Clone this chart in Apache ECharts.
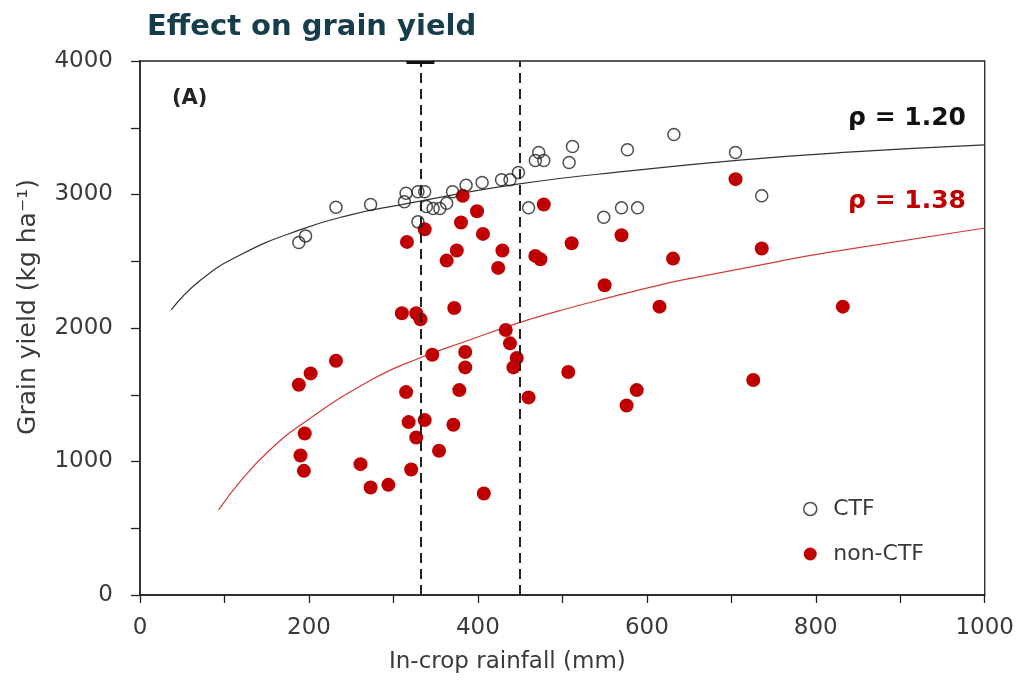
<!DOCTYPE html>
<html>
<head>
<meta charset="utf-8">
<script src="https://cdn.jsdelivr.net/npm/echarts@6/dist/echarts.min.js"></script>
<style>
html,body{margin:0;padding:0;background:#fff;}
#chart{width:1017px;height:682px;}
</style>
</head>
<body>
<div id="chart"></div>
<script>
// ---- data ----
var ctfRainfall = [188,196,232,273,315,313,329,337,329,339,347,355,363,370,386,405,428,438,448,460,472,468,478,512,508,549,570,589,577,632,705,736];
var ctfYield    = [2640,2690,2905,2925,3010,2945,3020,3020,2795,2910,2895,2895,2935,3020,3070,3090,3110,3110,3165,2900,3315,3255,3255,3360,3240,2830,2900,2900,3335,3450,3315,2990];

var nonCtfRainfall = [382,399,380,406,337,316,375,363,429,424,310,327,332,372,433,438,446,442,346,385,385,232,202,188,315,378,318,337,327,371,354,195,190,194,261,273,294,321,407,460,478,468,474,511,570,550,631,705,736,615,832,507,588,576,726];
var nonCtfYield    = [2990,2875,2790,2705,2740,2645,2580,2505,2580,2450,2110,2110,2065,2150,1985,1885,1775,1705,1800,1820,1705,1755,1660,1575,1520,1535,1295,1310,1180,1275,1080,1210,1045,930,980,805,825,940,760,1480,2925,2540,2515,2635,2695,2320,2520,3115,2595,2160,2160,1670,1535,1420,1610];

// fitted curves, points
var ctfFitRainfall = [37,70,118,189,248,307,449,591,710,828,1000];
var ctfFitYield    = [2135,2350,2545,2735,2846,2921,3079,3184,3258,3313,3371];
var nonCtfFitRainfall = [93,120,153,193,272,331,390,449,497,544,631,663,749,781,828,1000];
var nonCtfFitYield    = [637,860,1082,1286,1605,1775,1910,2040,2130,2210,2345,2385,2490,2529,2580,2749];

var dashedRainfall = [332,449];
var barRainfall = [315.5,348.5];

var xTickLabels = ['0','200','400','600','800','1000'];
var yTickLabels = ['0','1000','2000','3000','4000'];

var titleText = 'Effect on grain yield';
var panelText = '(A)';
var rhoCtf = 'ρ = 1.20';
var rhoNonCtf = 'ρ = 1.38';

function pairs(xs, ys){ return xs.map(function(x,i){ return [x, ys[i]]; }); }

var chart = echarts.init(document.getElementById('chart'), null, {renderer:'canvas'});
var axisFont = 'DejaVu Sans';
var option = {
  animation: false,
  backgroundColor: '#fff',
  grid: { left: 140, right: 32, top: 61, bottom: 87, show: true, borderColor: '#222', borderWidth: 1.3, backgroundColor: 'transparent' },
  xAxis: {
    type: 'value', min: 0, max: 1000, interval: 100,
    name: 'In-crop rainfall (mm)', nameLocation: 'middle', nameGap: 56,
    nameTextStyle: { fontFamily: axisFont, fontSize: 23, color: '#3a3a3a', padding: [0,110,0,0] },
    axisLine: { show: true, onZero: false, lineStyle: { color: '#222', width: 1.5 } },
    axisTick: { show: true, inside: false, length: 8, lineStyle: { color: '#222', width: 1.3 } },
    axisLabel: { fontFamily: axisFont, fontSize: 23, color: '#3a3a3a', margin: 22,
      formatter: function(v){ return v % 200 === 0 ? xTickLabels[v/200] : ''; } },
    splitLine: { show: false }
  },
  yAxis: {
    type: 'value', min: 0, max: 4000, interval: 500,
    name: 'Grain yield (kg ha⁻¹)', nameLocation: 'middle', nameGap: 99,
    nameTextStyle: { fontFamily: axisFont, fontSize: 25, color: '#3a3a3a', padding: [0,0,0,42] },
    axisLine: { show: true, onZero: false, lineStyle: { color: '#222', width: 1.5 } },
    axisTick: { show: true, inside: false, length: 9, lineStyle: { color: '#222', width: 1.3 } },
    axisLabel: { fontFamily: axisFont, fontSize: 23, color: '#3a3a3a', margin: 27,
      formatter: function(v){ return v % 1000 === 0 ? yTickLabels[v/1000] : ''; } },
    splitLine: { show: false }
  },
  legend: {
    orient: 'vertical', left: 798, top: 492, itemGap: 21,
    itemWidth: 36, itemHeight: 13,
    textStyle: { fontFamily: axisFont, fontSize: 22, color: '#3a3a3a', lineHeight: 24 },
    data: [
      { name: 'CTF', icon: 'circle', itemStyle: { color: '#fff', borderColor: '#222', borderWidth: 1.5 } },
      { name: 'non-CTF', icon: 'circle', itemStyle: { color: '#c00000' } }
    ]
  },
  series: [
    {
      name: 'ctf-fit', type: 'line', data: pairs(ctfFitRainfall, ctfFitYield), smooth: true,
      showSymbol: false, silent: true, lineStyle: { color: '#333', width: 1.2 }, z: 2
    },
    {
      name: 'noncf-fit', type: 'line', data: pairs(nonCtfFitRainfall, nonCtfFitYield), smooth: true,
      showSymbol: false, silent: true, lineStyle: { color: '#d43a3a', width: 1.2 }, z: 2
    },
    {
      name: 'non-CTF', type: 'scatter', data: pairs(nonCtfRainfall, nonCtfYield),
      symbol: 'circle', symbolSize: 14, itemStyle: { color: '#c00000', opacity: 1 }, z: 4
    },
    {
      name: 'CTF', type: 'scatter', data: pairs(ctfRainfall, ctfYield),
      symbol: 'circle', symbolSize: 12,
      itemStyle: { color: 'rgba(255,255,255,0)', borderColor: '#222', borderWidth: 1.5 }, z: 5
    },
    {
      name: 'guides', type: 'line', data: [], silent: true, z: 3,
      markLine: {
        silent: true, symbol: ['none','none'], label: { show: false },
        animation: false,
        data: [
          { xAxis: dashedRainfall[0], lineStyle: { color: '#222', width: 2, type: [10,6] } },
          { xAxis: dashedRainfall[1], lineStyle: { color: '#222', width: 2, type: [10,6] } },
          [ { coord: [barRainfall[0], 3988], lineStyle: { color: '#111', width: 3, type: 'solid' } },
            { coord: [barRainfall[1], 3988] } ]
        ]
      }
    }
  ],
  graphic: [
    { type: 'text', x: 147, y: 27, silent: true,
      style: { text: titleText, fill: '#163d4b', font: 'bold 29px "DejaVu Sans"', align: 'left', verticalAlign: 'middle' } },
    { type: 'text', x: 172, y: 99, silent: true,
      style: { text: panelText, fill: '#222', font: 'bold 21px "DejaVu Sans"', align: 'left', verticalAlign: 'middle' } },
    { type: 'text', x: 966, y: 118, silent: true,
      style: { text: rhoCtf, fill: '#111', font: 'bold 25px "DejaVu Sans"', align: 'right', verticalAlign: 'middle' } },
    { type: 'text', x: 966, y: 201, silent: true,
      style: { text: rhoNonCtf, fill: '#c00000', font: 'bold 25px "DejaVu Sans"', align: 'right', verticalAlign: 'middle' } }
  ]
};
chart.setOption(option);
</script>
</body>
</html>
